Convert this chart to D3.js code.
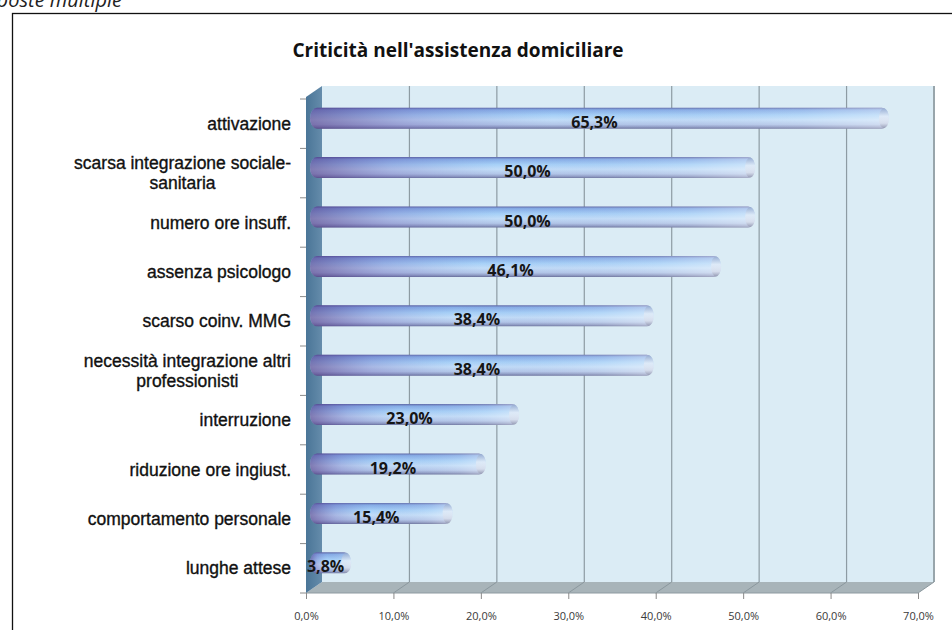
<!DOCTYPE html>
<html>
<head>
<meta charset="utf-8">
<script src="https://cdn.jsdelivr.net/npm/d3@7"></script>
<style>
  html, body { margin: 0; padding: 0; background: #fff; }
  svg { display: block; }
</style>
</head>
<body>
<svg id="chart" width="952" height="630"></svg>
<script>
// Criticità nell'assistenza domiciliare — risposte multiple
const categories = [
  "attivazione",
  "scarsa integrazione sociale-\nsanitaria",
  "numero ore insuff.",
  "assenza psicologo",
  "scarso coinv. MMG",
  "necessità integrazione altri\nprofessionisti",
  "interruzione",
  "riduzione ore ingiust.",
  "comportamento personale",
  "lunghe attese"
];
const values = [65.3, 50.0, 50.0, 46.1, 38.4, 38.4, 23.0, 19.2, 15.4, 3.8];
const xTicks = [0, 10, 20, 30, 40, 50, 60, 70];
const title = "Criticità nell'assistenza domiciliare";
const note = "Risposte multiple";

const svg = d3.select("#chart");
const defs = svg.append("defs");

// 3D depth offset of the back wall relative to the front plane
const DX = 16, DY = -11;
const x = d3.scaleLinear().domain([0, 70]).range([306, 918]);
const y = d3.scaleBand().domain(d3.range(categories.length)).range([99, 593]);
const yTop = y.range()[0], yBot = y.range()[1];

const pct = v => v.toFixed(1).replace(".", ",") + "%";

// frame and note (the note runs off the left edge of the page)
svg.append("rect")
  .attr("x", 12.5).attr("y", 13.5).attr("width", 1000).attr("height", 1000)
  .attr("fill", "none").attr("stroke", "#111").attr("stroke-width", 1.3);
svg.append("text")
  .attr("x", 122).attr("y", 7)
  .attr("text-anchor", "end")
  .attr("font-family", "'Open Sans', sans-serif")
  .attr("font-style", "italic")
  .attr("font-size", 20)
  .attr("fill", "#222")
  .text(note);

// title
svg.append("text")
  .attr("x", 458).attr("y", 57)
  .attr("text-anchor", "middle")
  .attr("font-family", "'Open Sans', sans-serif")
  .attr("font-weight", "bold")
  .attr("font-size", 19)
  .attr("fill", "#111")
  .text(title);

// gradients
const wallGrad = defs.append("linearGradient").attr("id", "sideWall")
  .attr("x1", 0).attr("x2", 1).attr("y1", 0).attr("y2", 0);
wallGrad.append("stop").attr("offset", "0%").attr("stop-color", "#4a7597");
wallGrad.append("stop").attr("offset", "100%").attr("stop-color", "#658cab");

const barV = defs.append("linearGradient").attr("id", "barV")
  .attr("x1", 0).attr("x2", 0).attr("y1", 0).attr("y2", 1);
[["0%", "#5f6aa8"], ["10%", "#86ace6"], ["35%", "#a6d0f7"], ["58%", "#c2ddf8"],
 ["80%", "#b2c6e8"], ["92%", "#8f9cc4"], ["100%", "#68709a"]]
  .forEach(([o, c]) => barV.append("stop").attr("offset", o).attr("stop-color", c));

const barH = defs.append("linearGradient").attr("id", "barH")
  .attr("x1", 0).attr("x2", 1).attr("y1", 0).attr("y2", 0);
[["0%", "#4a2a7a", 0.55], ["18%", "#5e4aa8", 0.25], ["42%", "#6a70c0", 0.0],
 ["85%", "#ffffff", 0.15], ["100%", "#ffffff", 0.4]]
  .forEach(([o, c, a]) => barH.append("stop").attr("offset", o)
    .attr("stop-color", c).attr("stop-opacity", a));

const capGrad = defs.append("linearGradient").attr("id", "cap")
  .attr("x1", 0).attr("x2", 0).attr("y1", 0).attr("y2", 1);
[["0%", "#8fa6cc"], ["40%", "#e3ecf7"], ["75%", "#d6dcea"], ["100%", "#8d92ac"]]
  .forEach(([o, c]) => capGrad.append("stop").attr("offset", o).attr("stop-color", c));

// back wall
const wallTop = yTop - 2 + DY;
svg.append("rect")
  .attr("x", x(0) + DX).attr("y", wallTop)
  .attr("width", x(70) - x(0)).attr("height", yBot + DY - wallTop)
  .attr("fill", "#dbecf5");

// back wall gridlines
svg.append("g").selectAll("line")
  .data(xTicks.filter(t => t > 0 && t < 70))
  .join("line")
  .attr("x1", d => x(d) + DX).attr("x2", d => x(d) + DX)
  .attr("y1", wallTop).attr("y2", yBot + DY)
  .attr("stroke", "#8d9ba3").attr("stroke-width", 1.2);
svg.append("line")
  .attr("x1", x(70) + DX).attr("x2", x(70) + DX)
  .attr("y1", wallTop).attr("y2", yBot + DY)
  .attr("stroke", "#98a5ab").attr("stroke-width", 2);

// floor
svg.append("path")
  .attr("d", `M${x(0)},${yBot} L${x(70)},${yBot} L${x(70) + DX},${yBot + DY} L${x(0) + DX},${yBot + DY} Z`)
  .attr("fill", "#a8b4b9");
svg.append("g").selectAll("line")
  .data(xTicks.filter(t => t > 0))
  .join("line")
  .attr("x1", d => x(d)).attr("x2", d => x(d) + DX)
  .attr("y1", yBot).attr("y2", yBot + DY)
  .attr("stroke", "#8b989e").attr("stroke-width", 1);
svg.append("line")
  .attr("x1", x(0)).attr("x2", x(70))
  .attr("y1", yBot).attr("y2", yBot)
  .attr("stroke", "#8e9aa0").attr("stroke-width", 1);

// left side wall
svg.append("path")
  .attr("d", `M${x(0)},${yTop - 2} L${x(0) + DX},${wallTop} L${x(0) + DX},${yBot + DY} L${x(0)},${yBot} Z`)
  .attr("fill", "url(#sideWall)");

// category tick marks on the left
svg.append("g").selectAll("line")
  .data(d3.range(categories.length + 1))
  .join("line")
  .attr("x1", x(0) - 6).attr("x2", x(0))
  .attr("y1", i => yTop + i * y.step()).attr("y2", i => yTop + i * y.step())
  .attr("stroke", "#8a8a8a");

// x axis
const xAxis = svg.append("g")
  .attr("transform", `translate(0,${yBot})`)
  .call(d3.axisBottom(x).tickValues(xTicks).tickFormat(pct).tickSize(6).tickPadding(13));
xAxis.select(".domain").remove();
xAxis.selectAll(".tick line").attr("stroke", "#8a8a8a");
xAxis.selectAll(".tick text")
  .attr("font-family", "'Open Sans', sans-serif")
  .attr("font-size", 11)
  .attr("fill", "#3a3a3a");

// bars (cylinders at mid depth)
const bh = 21;
const bars = svg.append("g").selectAll("g")
  .data(values)
  .join("g")
  .attr("transform", (d, i) => `translate(${DX / 2},${y(i) + y.bandwidth() / 2 + DY / 2})`);
bars.append("rect")
  .attr("x", x(0) - 4).attr("y", -bh / 2)
  .attr("width", d => x(d) - x(0) + 8).attr("height", bh)
  .attr("rx", 7).attr("ry", bh / 2)
  .attr("fill", "url(#barV)");
bars.append("rect")
  .attr("x", x(0) - 4).attr("y", -bh / 2)
  .attr("width", d => x(d) - x(0) + 8).attr("height", bh)
  .attr("rx", 7).attr("ry", bh / 2)
  .attr("fill", "url(#barH)");
// rounded end cap
bars.append("ellipse")
  .attr("cx", d => x(d) - 1).attr("cy", 0)
  .attr("rx", 5).attr("ry", bh / 2 - 0.5)
  .attr("fill", "url(#cap)").attr("opacity", 0.75);

// value labels
svg.append("g").selectAll("text")
  .data(values)
  .join("text")
  .attr("x", d => x(d / 2) + 3)
  .attr("y", (d, i) => y(i) + y.bandwidth() / 2 + 4)
  .attr("text-anchor", "middle")
  .attr("font-family", "'Open Sans', sans-serif")
  .attr("font-weight", "bold")
  .attr("font-size", 16)
  .attr("fill", "#161616")
  .text(pct);

// category labels (multi-line blocks centred, block right-aligned)
const labelRight = 291, lineH = 20;
categories.forEach((c, i) => {
  const lines = c.split("\n");
  const cy = y(i) + y.bandwidth() / 2;
  const g = svg.append("g");
  const texts = lines.map((ln, k) => g.append("text")
    .attr("y", cy + 6 + (k - (lines.length - 1) / 2) * lineH)
    .attr("font-family", "'Liberation Sans', Arial, sans-serif")
    .attr("font-size", 17.5)
    .attr("fill", "#111")
    .attr("stroke", "#111")
    .attr("stroke-width", 0.35)
    .attr("text-anchor", "middle")
    .text(ln));
  const w = d3.max(texts, t => t.node().getComputedTextLength());
  texts.forEach(t => t.attr("x", labelRight - w / 2));
});
</script>
</body>
</html>
